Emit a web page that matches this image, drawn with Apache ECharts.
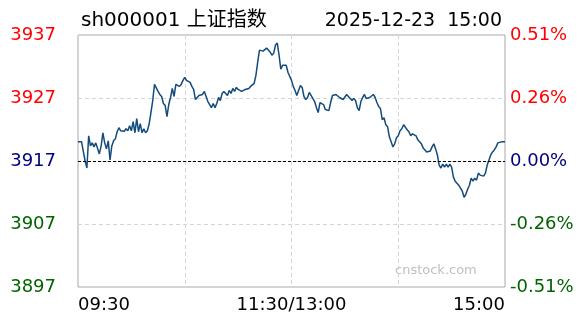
<!DOCTYPE html>
<html><head><meta charset="utf-8">
<script src="https://cdn.jsdelivr.net/npm/echarts@6/dist/echarts.min.js"></script>
<style>html,body{margin:0;padding:0;background:#fff}#c{width:588px;height:324px}</style>
</head><body><div id="c"></div>
<script>
const titleText = 'sh000001 上证指数';
const dateText = '2025-12-23  15:00';
const watermark = 'cnstock.com';
const prevClose = 3917;
const yMin = 3897, yMax = 3937, yStep = 10;
const priceTicks = ['3897', '3907', '3917', '3927', '3937'];
const pctTicks = ['-0.51%', '-0.26%', '0.00%', '0.26%', '0.51%'];
const timeTicks = ['09:30', '11:30/13:00', '15:00'];

// 09:30 - 11:30 (121 points)
const morning = [
3920.04,3920.04,3920.04,3919.96,3917.00,3915.88,3921.00,3919.40,3919.88,3919.24,
3919.88,3919.72,3918.12,3919.40,3921.48,3919.88,3918.92,3920.20,3917.16,3919.40,
3920.20,3920.52,3921.64,3922.28,3921.80,3921.96,3921.72,3922.12,3921.80,3922.60,
3921.80,3923.24,3921.48,3923.72,3921.64,3922.92,3921.48,3922.12,3921.48,3921.80,
3922.92,3924.68,3926.60,3929.16,3929.32,3928.04,3927.56,3927.24,3926.12,3925.80,
3924.04,3925.96,3927.08,3928.52,3927.24,3929.16,3929.00,3928.84,3929.16,3929.80,
3930.28,3929.80,3929.80,3929.48,3928.84,3928.36,3926.76,3926.92,3927.40,3927.24,
3927.56,3928.04,3927.24,3926.44,3925.96,3925.48,3926.12,3925.48,3926.12,3927.08,
3926.60,3927.72,3928.04,3927.88,3927.40,3928.20,3927.72,3928.52,3928.04,3928.68,
3928.36,3928.20,3928.04,3928.04,3928.36,3928.52,3928.52,3928.84,3928.84,3929.32,
3930.60,3932.68,3934.60,3934.44,3934.44,3934.60,3934.92,3934.60,3934.28,3933.80,
3934.12,3935.40,3935.72,3933.80,3931.56,3932.20,3932.36,3932.20,3931.08,3930.92,
3929.80
];
// 13:01 - 15:00 (120 points)
const afternoon = [
3928.84,3928.20,3927.40,3928.20,3929.00,3928.68,3927.24,3926.76,3927.08,3927.88,
3927.40,3927.24,3926.44,3925.48,3924.68,3926.28,3926.12,3925.96,3925.16,3925.00,
3925.00,3926.28,3927.40,3927.40,3927.56,3927.72,3927.08,3926.92,3926.76,3926.92,
3927.56,3927.24,3927.40,3926.60,3926.92,3926.60,3925.48,3925.00,3926.44,3927.08,
3927.56,3926.92,3927.08,3927.08,3927.08,3927.56,3927.08,3926.28,3925.64,3925.32,
3923.56,3923.88,3922.76,3922.44,3920.84,3920.04,3919.24,3919.72,3920.68,3921.00,
3921.80,3922.12,3922.76,3922.60,3921.96,3921.64,3921.00,3921.32,3921.32,3921.00,
3920.36,3920.04,3919.72,3919.08,3918.76,3918.44,3918.44,3918.60,3919.24,3919.72,
3918.92,3917.96,3916.36,3915.88,3916.52,3916.04,3916.52,3916.04,3916.52,3916.04,
3914.44,3913.80,3913.80,3913.16,3913.00,3912.20,3911.24,3911.72,3912.52,3913.16,
3914.28,3913.80,3914.28,3913.96,3915.08,3914.76,3914.60,3914.60,3915.08,3916.36,
3917.16,3917.96,3918.44,3918.76,3919.24,3919.88,3920.04,3920.04,3920.04,3920.04
];

function pad(n) { return (n < 10 ? '0' : '') + n; }
const times = [];
for (let m = 9 * 60 + 30; m <= 11 * 60 + 30; m++) times.push(pad(Math.floor(m / 60)) + ':' + pad(m % 60));
for (let m = 13 * 60 + 1; m <= 15 * 60; m++) times.push(pad(Math.floor(m / 60)) + ':' + pad(m % 60));
const prices = morning.concat(afternoon);
const lastIdx = times.length - 1;
const midIdx = morning.length - 1;

function tickColor(v) {
  const n = Number(v);
  if (n > prevClose + 0.001) return '#ff0000';
  if (n < prevClose - 0.001) return '#006400';
  return '#000080';
}

const font = 'DejaVu Sans';
const chart = echarts.init(document.getElementById('c'), null, { renderer: 'canvas' });
chart.setOption({
  animation: false,
  backgroundColor: '#ffffff',
  title: [
    { text: titleText, left: 76, top: 6, textStyle: { fontFamily: font + ', "Noto Sans CJK SC"', fontSize: 20, fontWeight: 'normal', color: '#000' } },
    { text: dateText, right: 81, top: 7, textStyle: { fontFamily: font, fontSize: 19, fontWeight: 'normal', color: '#000' } }
  ],
  graphic: [
    { type: 'text', left: 395, top: 264, silent: true,
      style: { text: watermark, fill: '#c0c0c0', font: '13px "DejaVu Sans"' } }
  ],
  grid: { left: 78, right: 83, top: 35, bottom: 37, show: true, borderColor: '#a8a8a8', borderWidth: 1, backgroundColor: 'transparent' },
  xAxis: {
    type: 'category', data: times, boundaryGap: false,
    axisLine: { show: false }, axisTick: { show: false },
    axisLabel: {
      interval: function (i) { return i === 0 || i === midIdx || i === lastIdx; },
      margin: 9,
      formatter: function (v, i) {
        if (i === 0) return '{l|' + timeTicks[0] + '}';
        if (i === midIdx) return '{c|' + timeTicks[1] + '}';
        return '{r|' + timeTicks[2] + '}';
      },
      rich: {
        l: { fontFamily: font, fontSize: 18, color: '#000', padding: [0, 0, 0, 52] },
        c: { fontFamily: font, fontSize: 18, color: '#000' },
        r: { fontFamily: font, fontSize: 18, color: '#000', padding: [0, 52, 0, 0] }
      },
      showMinLabel: true, showMaxLabel: true
    },
    splitLine: {
      show: true,
      interval: function (i) { return i === 60 || i === midIdx || i === 180; },
      lineStyle: { color: '#d4d4d4', type: [4, 3], width: 1 }
    }
  },
  yAxis: [
    {
      type: 'value', min: yMin, max: yMax, interval: yStep, position: 'left',
      axisLine: { show: false }, axisTick: { show: false },
      axisLabel: {
        margin: 22, fontFamily: font, fontSize: 18,
        color: function (v) { return tickColor(v); },
        formatter: function (v, i) { return priceTicks[Math.round((v - yMin) / yStep)]; }
      },
      splitLine: { show: true, lineStyle: { color: '#d4d4d4', type: [4, 3], width: 1 } }
    },
    {
      type: 'value', min: yMin, max: yMax, interval: yStep, position: 'right',
      axisLine: { show: false }, axisTick: { show: false },
      axisLabel: {
        margin: 5, fontFamily: font, fontSize: 18,
        color: function (v) { return tickColor(v); },
        formatter: function (v) { return pctTicks[Math.round((v - yMin) / yStep)]; }
      },
      splitLine: { show: false }
    }
  ],
  series: [{
    type: 'line', data: prices, yAxisIndex: 0, showSymbol: false, symbol: 'none',
    lineStyle: { color: '#134b7d', width: 1.5 },
    markLine: {
      silent: true, symbol: 'none', label: { show: false },
      lineStyle: { color: '#000', type: [3, 2], width: 1 },
      data: [{ yAxis: prevClose }]
    },
    z: 3
  }]
});
</script>
</body></html>
